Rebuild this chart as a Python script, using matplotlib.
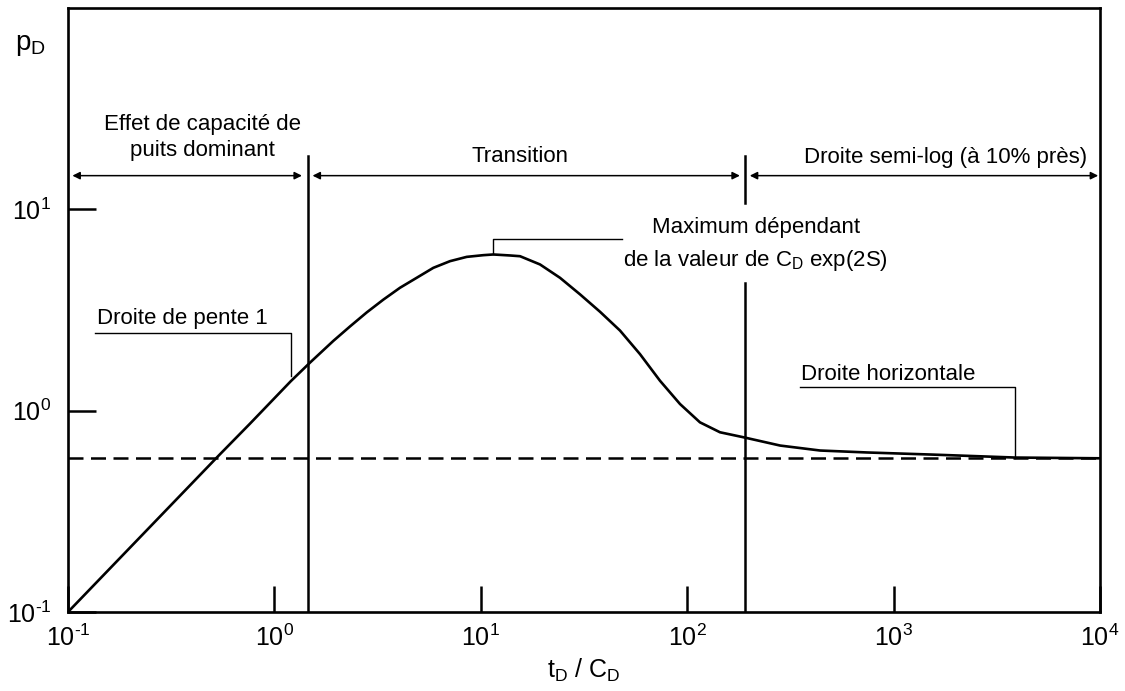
import numpy as np
import matplotlib
matplotlib.use("Agg")
import matplotlib.pyplot as plt

plt.rcParams['font.family'] = ['Liberation Sans', 'DejaVu Sans']
plt.rcParams['mathtext.fontset'] = 'custom'
plt.rcParams['mathtext.rm'] = 'Liberation Sans'
plt.rcParams['mathtext.it'] = 'Liberation Sans'
plt.rcParams['mathtext.default'] = 'regular'

# curve (t_D/C_D, p_D)
td_cd = [0.1, 0.53, 0.76, 1.2, 1.488, 1.93, 2.324, 2.801, 3.371, 4.06, 4.892,
         5.888, 7.093, 8.546, 10.28, 11.5, 13.85, 15.49, 19.36, 24.19, 30.25,
         37.8, 47.25, 59.06, 73.82, 92.29, 115.3, 144.2, 187.0, 282, 440, 743,
         1550, 3870, 10000]
p_d = [0.1, 0.59, 0.86, 1.40, 1.733, 2.221, 2.62, 3.076, 3.56, 4.078, 4.571,
       5.122, 5.528, 5.806, 5.92, 5.967, 5.90, 5.85, 5.324, 4.571, 3.782,
       3.10, 2.50, 1.909, 1.408, 1.079, 0.875, 0.781, 0.738, 0.671, 0.634,
       0.62, 0.605, 0.585, 0.58]

p_semilog = 0.58          # horizontal asymptote (dashed)
t_end_wbs = 1.45          # end of wellbore storage
t_start_semilog = 190     # start of semi-log straight line

x_ticks = [0.1, 1, 10, 100, 1000, 10000]
x_labels = ['$10^{\\text{-}1}$', '$10^{0}$', '$10^{1}$', '$10^{2}$',
            '$10^{3}$', '$10^{4}$']
y_ticks = [0.1, 1, 10]
y_labels = ['$10^{\\text{-}1}$', '$10^{0}$', '$10^{1}$']

fig = plt.figure(figsize=(11.25, 6.91), dpi=100)
ax = fig.add_axes([68/1125, 79/691, 1032/1125, 604/691])
ax.set_xscale('log')
ax.set_yscale('log')
ax.set_xlim(0.1, 10000)
ax.set_ylim(0.1, 100)

ax.plot(td_cd, p_d, color='black', lw=1.9)
ax.axhline(p_semilog, color='black', lw=1.8, dashes=(6, 3))

# region boundaries
ax.plot([t_end_wbs, t_end_wbs], [0.1, 18.3], color='black', lw=1.8)
ax.plot([t_start_semilog, t_start_semilog], [10.7, 18.3], color='black', lw=1.8)
ax.plot([t_start_semilog, t_start_semilog], [0.1, 4.3], color='black', lw=1.8)

# arrows
y_arr = 14.7
aprops = dict(arrowstyle='<|-|>', color='black', lw=1.1, mutation_scale=11,
              shrinkA=0, shrinkB=0)
ax.annotate('', xy=(1.36, y_arr), xytext=(0.105, y_arr), arrowprops=aprops)
ax.annotate('', xy=(180, y_arr), xytext=(1.53, y_arr), arrowprops=aprops)
ax.annotate('', xy=(9800, y_arr), xytext=(201, y_arr), arrowprops=aprops)

fs = 16
ax.text(0.449, 18.3, 'Effet de capacité de\npuits dominant', ha='center',
        va='baseline', fontsize=fs, linespacing=1.35)
ax.text(15.5, 17.2, 'Transition', ha='center', va='baseline', fontsize=fs)
ax.text(1795, 17.0, 'Droite semi-log (à 10% près)', ha='center',
        va='baseline', fontsize=fs)

# leaders
ax.text(0.138, 2.70, 'Droite de pente 1', ha='left', va='baseline', fontsize=fs)
ax.plot([0.135, 1.20, 1.20], [2.43, 2.43, 1.49], color='black', lw=1.0)

ax.text(215, 5.23, 'Maximum dépendant\nde la valeur de C$_D$ exp(2S)',
        ha='center', va='baseline', fontsize=fs, linespacing=1.55)
ax.plot([11.5, 11.5, 48.3], [5.97, 7.1, 7.1], color='black', lw=1.0)

ax.text(355, 1.42, 'Droite horizontale', ha='left', va='baseline', fontsize=fs)
ax.plot([352, 3870, 3870], [1.31, 1.31, p_semilog], color='black', lw=1.0)

# axes styling
for s in ax.spines.values():
    s.set_linewidth(1.9)
ax.set_xticks(x_ticks)
ax.set_xticklabels(x_labels)
ax.set_yticks(y_ticks)
ax.set_yticklabels(y_labels)
ax.minorticks_off()
ax.tick_params(axis='x', direction='in', length=19, width=1.8, labelsize=18, pad=9)
ax.tick_params(axis='y', direction='in', length=20, width=1.8, labelsize=18, pad=12)

ax.set_xlabel('t$_D$ / C$_D$', fontsize=18, labelpad=4)
fig.text(15/1125, 1 - 50/691, 'p$_D$', fontsize=20, ha='left', va='baseline')

fig.savefig('out.png', dpi=100, facecolor='white')
